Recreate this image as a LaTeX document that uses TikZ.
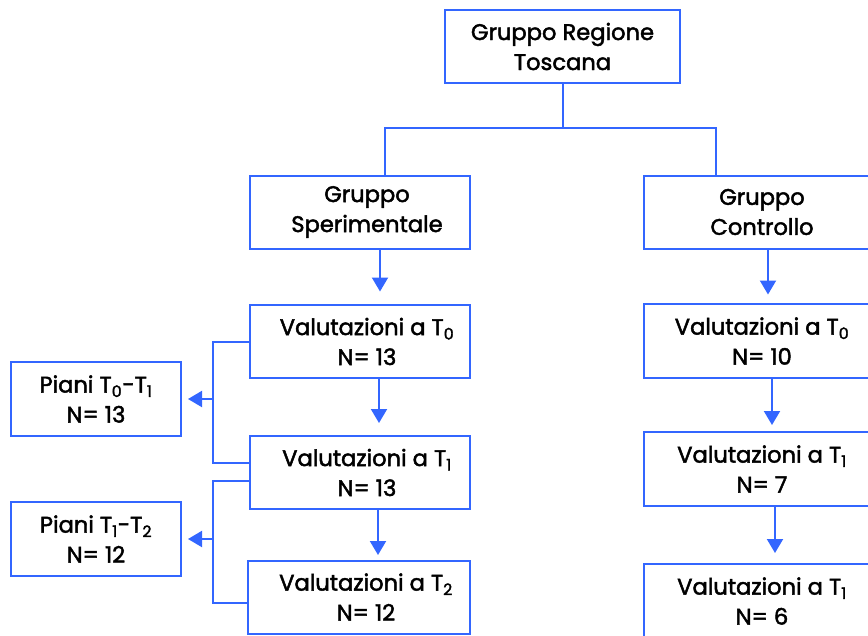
\documentclass[tikz,border=0pt]{standalone}
\usepackage{fontspec}
\setmainfont{Poppins}[FakeBold=2]
\usetikzlibrary{arrows.meta,calc}
\definecolor{flowblue}{RGB}{51,102,255}
\tikzset{
  flowbox/.style={draw=flowblue, line width=2pt, fill=white, align=center,
    minimum height=73pt, inner sep=0pt, font=\fontsize{22.6}{30}\selectfont},
  % box whose caption sits a little right of the centre
  shiftbox/.style 2 args={flowbox, minimum width=#1,
    label={[align=center, inner sep=0pt, font=\fontsize{22.6}{30}\selectfont, xshift=7pt]center:#2}},
  link/.style={draw=flowblue, line width=2pt},
  arr/.style={link, -{Triangle[length=14pt,width=16pt]}}
}
\newcommand{\Tsub}[1]{T\textsubscript{#1}}
\begin{document}
\begin{tikzpicture}[x=1pt,y=-1pt]
\useasboundingbox (0,0) rectangle (868,635);
\clip (0,0) rectangle (868,635);
% top of the tree
\node[flowbox, minimum width=235pt] (top) at (562.5,46.5) {Gruppo Regione\\Toscana};
\node[shiftbox={220pt}{Gruppo\\Sperimentale}] (sper) at (360,212) {};
\node[flowbox, minimum width=236pt] (ctrl) at (762,212) {Gruppo\\Controllo};
% experimental branch
\node[shiftbox={220pt}{Valutazioni a \Tsub{0}\\N= 13}] (s0) at (360,341.5) {};
\node[shiftbox={220pt}{Valutazioni a \Tsub{1}\\N= 13}] (s1) at (360,472.5) {};
\node[shiftbox={222pt}{Valutazioni a \Tsub{2}\\N= 12}] (s2) at (359,597) {};
\node[flowbox, minimum width=170pt, minimum height=74pt] (p01) at (96,399) {Piani \Tsub{0}-\Tsub{1}\\N= 13};
\node[flowbox, minimum width=170pt, minimum height=74pt] (p12) at (96,539) {Piani \Tsub{1}-\Tsub{2}\\N= 12};
% control branch
\node[flowbox, minimum width=236pt, minimum height=74pt] (c0) at (762,341) {Valutazioni a \Tsub{0}\\N= 10};
\node[flowbox, minimum width=236pt, minimum height=74pt] (c1) at (762,469) {Valutazioni a \Tsub{1}\\N= 7};
\node[flowbox, minimum width=236pt, minimum height=74pt] (c2) at (762,601) {Valutazioni a \Tsub{1}\\N= 6};
% split into the two groups
\coordinate (bus) at (0,128);
\draw[link] (top.south) -- (top.south |- bus);
\draw[link] ([xshift=25pt]sper.north) |- (top.south |- bus) -| ([xshift=-46pt]ctrl.north);
% experimental arrows
\draw[arr] ([xshift=20pt]sper.south) -- ++(0,42);
\draw[arr] ([xshift=19pt]s0.south) -- ++(0,44);
\draw[arr] ([xshift=18pt]s1.south) -- ++(0,45);
% brackets to the plans
\coordinate (rail) at (213,0);
\draw[link] (s0.west) -| (rail |- 0,463) -- (s1.west |- 0,463);
\draw[arr] (rail |- p01.east) -- ([xshift=6pt]p01.east);
\draw[link] (s1.west |- 0,481) -| (rail |- 0,603) -- (s2.west |- 0,603);
\draw[arr] (rail |- p12.east) -- ([xshift=6pt]p12.east);
% control arrows
\draw[arr] ([xshift=6pt]ctrl.south) -- ++(0,45);
\draw[arr] ([xshift=10pt]c0.south) -- ++(0,46);
\draw[arr] ([xshift=13pt]c1.south) -- ++(0,46);
\end{tikzpicture}
\end{document}
